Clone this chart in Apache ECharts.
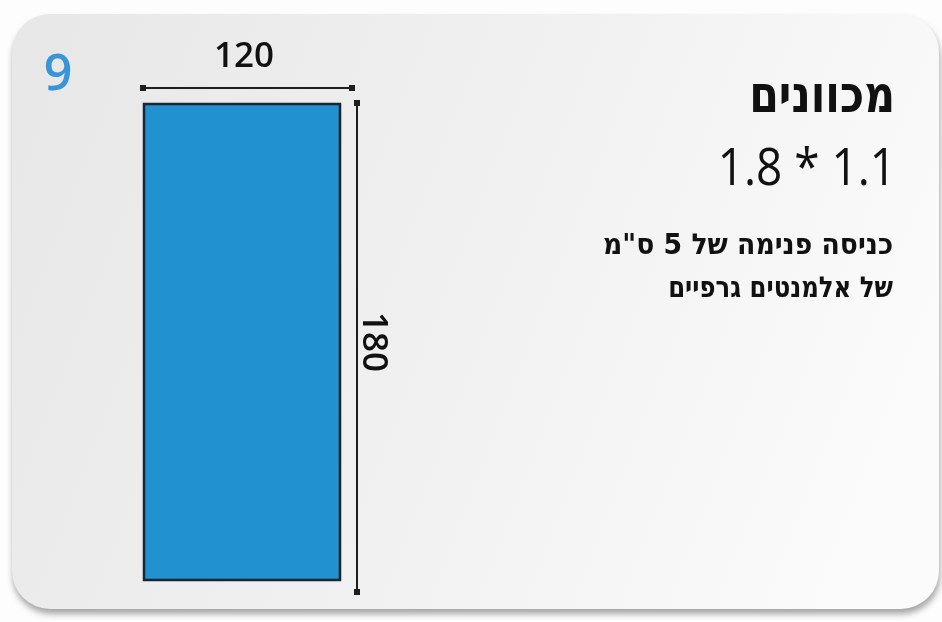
<!DOCTYPE html>
<html>
<head>
<meta charset="utf-8">
<script src="https://cdn.jsdelivr.net/npm/echarts@6/dist/echarts.min.js"></script>
<style>
html,body{margin:0;padding:0;background:#fdfdfd;}
#c{width:942px;height:622px;}
</style>
</head>
<body>
<div id="c"></div>
<script>
// ---- data ----
const itemNumber = '9';
const widthCm = 120;
const heightCm = 180;
const dimLabels = ['120', '180'];
const titleText = 'מכוונים';
const sizeText = '1.8 * 1.1';
const noteLines = ['כניסה פנימה של 5 ס"מ', 'של אלמנטים גרפיים'];

const chart = echarts.init(document.getElementById('c'), null, {renderer: 'canvas'});

const FONT = '"Open Sans", "DejaVu Sans", sans-serif';

const option = {
  backgroundColor: '#fdfdfd',
  animation: false,
  grid: {left: 144, right: 602, top: 104, bottom: 42},
  xAxis: {type: 'value', min: 0, max: widthCm, show: false},
  yAxis: {type: 'value', min: 0, max: heightCm, show: false},
  graphic: [
    {
      type: 'rect', z: -10,
      shape: {x: 12, y: 14, width: 927, height: 595, r: 38},
      style: {
        fill: new echarts.graphic.LinearGradient(0, 0, 1, 0.6, [
          {offset: 0, color: '#e7e7e7'},
          {offset: 0.55, color: '#f1f1f1'},
          {offset: 1, color: '#fbfbfb'}
        ]),
        shadowBlur: 6, shadowOffsetY: 5, shadowOffsetX: 1, shadowColor: 'rgba(0,0,0,0.35)'
      }
    },
    {
      type: 'text', x: 58, y: 76,
      style: {text: itemNumber, fill: '#3a95d8', font: '600 50px ' + FONT, align: 'center', verticalAlign: 'middle'}
    },
    {
      type: 'text', x: 895, y: 98, scaleX: 0.82,
      style: {text: titleText, fill: '#111', font: 'bold 52px "DejaVu Sans", sans-serif', align: 'right', verticalAlign: 'middle'}
    },
    {
      type: 'text', x: 896, y: 170, scaleX: 0.9,
      style: {text: sizeText, fill: '#111', font: '51px ' + FONT, align: 'right', verticalAlign: 'middle'}
    },
    {
      type: 'text', x: 893, y: 246, scaleX: 0.92,
      style: {text: noteLines[0], fill: '#111', font: 'bold 29px "DejaVu Sans", sans-serif', align: 'right', verticalAlign: 'middle'}
    },
    {
      type: 'text', x: 893, y: 289, scaleX: 0.84,
      style: {text: noteLines[1], fill: '#111', font: 'bold 29px "DejaVu Sans", sans-serif', align: 'right', verticalAlign: 'middle'}
    }
  ],
  series: [{
    type: 'custom',
    coordinateSystem: 'cartesian2d',
    data: [[0, 0, widthCm, heightCm]],
    renderItem: function (params, api) {
      const tl = api.coord([api.value(0), api.value(3)]);
      const br = api.coord([api.value(2), api.value(1)]);
      const w = br[0] - tl[0], h = br[1] - tl[1];
      const lineCol = '#1e1e1e';
      const topY = tl[1] - 16;
      const topX0 = tl[0] - 1, topX1 = br[0] + 12;
      const vX = br[0] + 17;
      const vY0 = tl[1] - 1, vY1 = br[1] + 12;
      const sq = 6;
      return {
        type: 'group',
        children: [
          {type: 'rect', shape: {x: tl[0], y: tl[1], width: w, height: h},
           style: {fill: '#2291d0', stroke: '#1a2632', lineWidth: 2.5}},
          {type: 'line', shape: {x1: topX0, y1: topY, x2: topX1, y2: topY},
           style: {stroke: lineCol, lineWidth: 2}},
          {type: 'rect', shape: {x: topX0 - sq / 2, y: topY - sq / 2, width: sq, height: sq}, style: {fill: lineCol}},
          {type: 'rect', shape: {x: topX1 - sq / 2, y: topY - sq / 2, width: sq, height: sq}, style: {fill: lineCol}},
          {type: 'line', shape: {x1: vX, y1: vY0, x2: vX, y2: vY1},
           style: {stroke: lineCol, lineWidth: 2}},
          {type: 'rect', shape: {x: vX - sq / 2, y: vY0 - sq / 2, width: sq, height: sq}, style: {fill: lineCol}},
          {type: 'rect', shape: {x: vX - sq / 2, y: vY1 - sq / 2, width: sq, height: sq}, style: {fill: lineCol}},
          {type: 'text', x: (tl[0] + br[0]) / 2 + 2, y: tl[1] - 47,
           style: {text: dimLabels[0], fill: '#111', font: '600 35px ' + FONT, align: 'center', verticalAlign: 'middle'}},
          {type: 'text', x: vX + 16, y: (tl[1] + br[1]) / 2, rotation: -Math.PI / 2,
           style: {text: dimLabels[1], fill: '#111', font: '600 35px ' + FONT, align: 'center', verticalAlign: 'middle'}}
        ]
      };
    }
  }]
};
chart.setOption(option);
</script>
</body>
</html>
